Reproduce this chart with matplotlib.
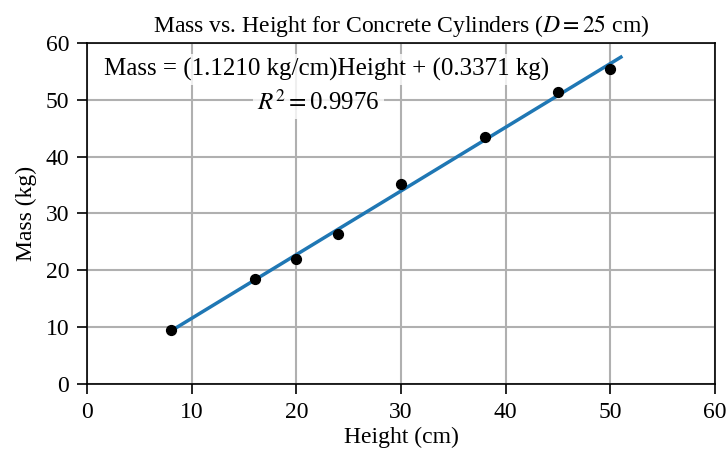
import numpy as np
import matplotlib
matplotlib.use("Agg")
import matplotlib.pyplot as plt

# data
height_cm = [8, 16, 20, 24, 30, 38, 45, 50]
mass_kg = [9.4, 18.5, 22.0, 26.3, 35.2, 43.5, 51.4, 55.4]

slope = 1.1210
intercept = 0.3371
r_squared = 0.9976
fit_x = [8, 51]

plt.rcParams.update({
    "font.family": "serif",
    "font.serif": ["Liberation Serif", "DejaVu Serif"],
    "mathtext.fontset": "stix",
    "font.size": 17,
    "axes.linewidth": 1.2,
})

fig, ax = plt.subplots(figsize=(7.26, 4.57), dpi=100)

fit_y = [slope * x + intercept for x in fit_x]
ax.plot(fit_x, fit_y, color="#1f77b4", linewidth=2.5, zorder=3)
ax.scatter(height_cm, mass_kg, color="black", s=50, zorder=4)

ax.set_xlim(0, 60)
ax.set_ylim(0, 60)
ax.set_xticks(np.arange(0, 61, 10))
ax.set_yticks(np.arange(0, 61, 10))
ax.tick_params(width=1.2, length=7, pad=6)
ax.grid(True, color="#b0b0b0", linewidth=1.5)
ax.set_axisbelow(True)

ax.set_xlabel("Height (cm)", labelpad=3)
ax.set_ylabel("Mass (kg)", labelpad=6)
ax.set_title(r"Mass vs. Height for Concrete Cylinders ($D = 25$ cm)", fontsize=17, pad=8)

box = dict(facecolor="white", edgecolor="none", alpha=0.8, pad=3)
eq_text = f"Mass = ({slope:.4f} kg/cm)Height + ({intercept:.4f} kg)"
r2_text = r"$R^2 = $" + f"{r_squared:.4f}"
ax.text(22.9, 55.3, eq_text, ha="center", va="center", fontsize=18, bbox=box, zorder=5)
ax.text(22.1, 49.6, r2_text, ha="center", va="center", fontsize=18, bbox=box, zorder=5)

plt.subplots_adjust(left=0.12, right=0.985, top=0.906, bottom=0.16)
plt.savefig("out.png", dpi=100)
